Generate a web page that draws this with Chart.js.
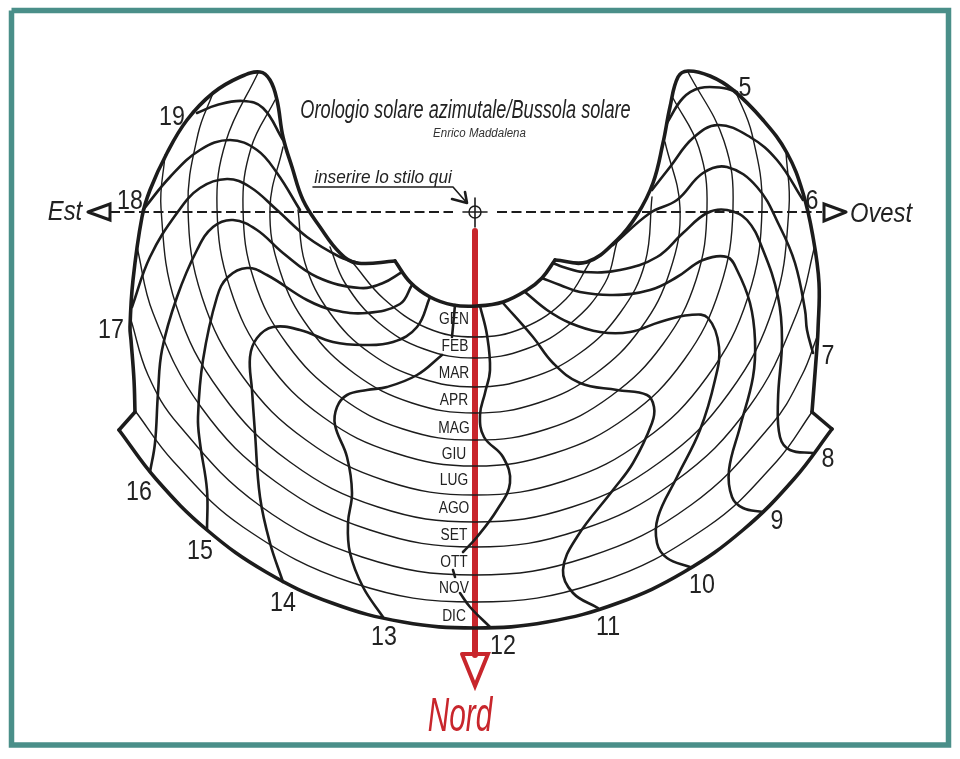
<!DOCTYPE html>
<html><head><meta charset="utf-8">
<style>html,body{margin:0;padding:0;background:#fff}canvas{display:block}</style>
<script src="https://cdn.jsdelivr.net/npm/chart.js@4"></script>
</head><body><canvas id="c" width="960" height="759"></canvas>
<script>
// month curves, as [x,y] on the plot's 960x759 grid
const gen_feb=[[353,263],[384,299],[427,328],[475,337],[523,328],[566,299],[590,262]];
const feb_mar=[[330,247],[345,283],[379,323],[424,349],[475,358],[526,349],[571,323],[605,283],[617,242]];
const mar_apr=[[298,210],[305,263],[330,313],[370,353],[420,378],[475,387],[530,378],[580,353],[620,313],[645,263],[652,197]];
const apr_mag=[[283,147],[270,208],[280,271],[309,328],[355,374],[412,403],[475,413],[538,403],[595,374],[641,328],[670,271],[680,208],[665,142]];
const mag_giu=[[275,100],[251,148],[243,208],[254,280],[287,344],[339,396],[403,429],[475,440],[547,429],[611,396],[663,344],[696,280],[707,208],[699,148],[673,98]];
const giu_lug=[[258,73],[226,141],[217,208],[230,288],[266,360],[323,417],[395,453],[475,466],[555,453],[627,417],[684,360],[720,288],[733,208],[724,141],[688,72]];
const lug_ago=[[213,93],[198,134],[188,208],[202,297],[243,377],[306,440],[386,481],[475,495],[564,481],[644,440],[707,377],[748,297],[762,208],[752,134],[735,90]];
const ago_set=[[165,155],[161,208],[176,305],[221,393],[290,462],[378,507],[475,522],[572,507],[660,462],[729,393],[774,305],[789,208],[786,152]];
const set_ott=[[137,247],[153,313],[201,407],[276,482],[370,530],[475,547],[580,530],[674,482],[749,407],[797,313],[815,245]];
const ott_nov=[[131,320],[148,375],[178,424],[259,505],[362,557],[475,575],[588,557],[691,505],[772,424],[802,375],[817,337]];
const nov_dic=[[136,412],[173,461],[243,527],[353,583],[475,602],[597,583],[707,527],[777,461],[812,412]];
// hour curves
const h5=[[737,92],[723,88],[700,88],[683,98],[667,123]];
const h6=[[803,200],[777,160],[750,137],[718,125],[693,138],[670,167],[652,190]];
const h7=[[813,353],[807,330],[805,310],[795,263],[780,227],[757,187],[727,167],[703,173],[677,200],[650,213],[613,245]];
const h8=[[813,453],[790,450],[780,437],[778,400],[782,340],[778,297],[763,250],[747,220],[727,210],[707,213],[683,233],[657,257],[620,270],[583,272],[563,267],[553,263]];
const h9=[[763,512],[743,508],[732,497],[729,470],[740,427],[753,377],[755,340],[750,303],[737,270],[727,257],[703,260],[677,277],[650,290],[613,295],[580,292],[560,285],[542,278]];
const h10=[[690,567],[667,558],[657,543],[658,517],[677,477],[700,430],[715,380],[719,347],[708,318],[690,315],[660,322],[630,332],[600,332],[570,323],[547,310],[525,292]];
const h11=[[598,608],[573,593],[563,570],[577,537],[613,490],[633,463],[652,423],[654,407],[647,395],[617,390],[580,383],[553,363],[533,337],[503,303]];
const h12a=[[480,306],[487,335],[490,370],[485,393],[480,415],[484,437],[503,457],[510,483],[497,510],[477,537],[463,552]];
const h12b=[[453,570],[455,577]];
const h12c=[[460,593],[470,607],[490,627]];
const h13a=[[383,617],[363,587],[350,553],[348,523],[352,493],[347,457],[335,425],[337,407],[347,395],[367,390],[387,387],[417,375],[442,355]];
const h13b=[[455,305],[452,337]];
const h14=[[283,582],[270,543],[260,497],[255,433],[252,390],[250,357],[257,338],[273,327],[300,330],[333,342],[363,345],[393,342],[417,327],[430,297]];
const h15=[[207,530],[207,490],[200,443],[198,417],[203,360],[217,297],[228,277],[247,268],[267,275],[307,300],[333,310],[367,313],[400,304],[412,285]];
const h16=[[150,472],[155,443],[158,393],[162,350],[177,297],[197,250],[213,227],[233,220],[257,230],[283,253],[317,277],[360,288],[383,283],[402,272]];
const h17=[[132,307],[150,257],[177,213],[200,188],[227,179],[250,187],[277,210],[307,237],[340,257],[358,263]];
const h18=[[143,210],[170,177],[200,150],[230,140],[257,150],[277,173],[300,210]];
const h19=[[197,113],[217,105],[243,101],[263,108],[283,140]];
// outline
const edgeLeft=[[135,412],[134,380],[131,340],[130,327],[133,280],[142,217],[150,190],[167,153],[187,120],[213,93],[240,77],[260,72],[270,80],[277,100],[283,137],[292,167],[303,200],[320,227],[340,253],[357,263],[395,261]];
const edgeInner=[[395,261],[410,282],[430,297],[453,305],[477,306],[503,302],[527,290],[542,278],[555,260]];
const edgeRight=[[555,260],[587,262],[617,240],[637,215],[653,183],[663,143],[670,107],[678,77],[688,71],[710,76],[733,90],[763,120],[787,153],[803,193],[813,237],[819,283],[818,330],[817,347],[812,412]];
const edgeBottom=[[119,430],[156,479],[207,530],[266,572],[332,603],[403,622],[475,628],[547,622],[618,603],[684,572],[743,530],[794,479],[832,429]];
const notchLeft=[[135,412],[119,430]];
const notchRight=[[812,412],[832,429]];
// axes and arrows
const eastWestLeft=[[110,212],[453,212]];
const eastWestRight=[[497,212],[822,212]];
const crossH=[[463,212],[487,212]];
const crossV=[[475,198],[475,227]];
const crossRing=[[475,212]];
const northLine=[[475,231],[475,655]];
const northHead=[[462,654],[488,654],[475,686],[462,654]];
const eastHead=[[88,212],[110,204],[110,220],[88,212]];
const westHead=[[846,212],[824,204],[824,221],[846,212]];
const pointer=[[313,187],[453,187],[467,203]];
const pointerHead=[[465,192],[467,203],[452,199]];
const frame=[[11.5,10.5],[948.5,10.5],[948.5,745],[11.5,745],[11.5,10.5]];
// labels
const monthNames=['GEN','FEB','MAR','APR','MAG','GIU','LUG','AGO','SET','OTT','NOV','DIC'];
const monthX=[454,455,454,454,454,454,454,454,454,454,454,454];
const monthY=[320,347,374,401,429,455,481,509,536,563,589,617];
const hourNames=['5','6','7','8','9','10','11','12','13','14','15','16','17','18','19'];
const hourX=[745,812,828,828,777,702,608,503,384,283,200,139,111,130,172];
const hourY=[89,202,357,460,522,586,628,647,638,604,552,493,331,202,118];

const BLACK='#1c1c1c', RED='#c8262c', TEAL='#4a8f89';
const P=a=>a.map(([x,y])=>({x,y}));
const line=(a,w,o={})=>Object.assign({data:P(a),borderColor:BLACK,borderWidth:w,tension:0.4,pointRadius:0,fill:false,showLine:true,borderCapStyle:'round',borderJoinStyle:'round'},o);
const straight={tension:0};
const months=[gen_feb,feb_mar,mar_apr,apr_mag,mag_giu,giu_lug,lug_ago,ago_set,set_ott,ott_nov,nov_dic];
const hours=[h5,h6,h7,h8,h9,h10,h11,h12a,h12b,h12c,h13a,h13b,h14,h15,h16,h17,h18,h19];
const edges=[edgeLeft,edgeInner,edgeRight,edgeBottom];
const datasets=[
 line(frame,5.5,{borderColor:TEAL,tension:0,borderCapStyle:'butt',borderJoinStyle:'miter'}),
 ...months.map(a=>line(a,1.4)),
 ...hours.map(a=>line(a,2.6)),
 ...edges.map(a=>line(a,3.6)),
 line(notchLeft,3.6,straight),line(notchRight,3.6,straight),
 line(eastWestLeft,2,{tension:0,borderDash:[10,4.5],borderCapStyle:'butt'}),
 line(eastWestRight,2,{tension:0,borderDash:[10,4.5],borderCapStyle:'butt'}),
 line(crossH,1.6,straight),line(crossV,1.6,straight),
 {data:P(crossRing),showLine:false,pointStyle:'circle',pointRadius:6,pointBorderWidth:1.5,pointBorderColor:BLACK,pointBackgroundColor:'rgba(0,0,0,0)'},
 line(northLine,6,{tension:0,borderColor:RED,borderCapStyle:'butt'}),
 line(northHead,4,{tension:0,borderColor:RED,fill:true,backgroundColor:'#fff',borderJoinStyle:'miter'}),
 line(eastHead,3,{tension:0,fill:true,backgroundColor:'#fff',borderJoinStyle:'miter'}),
 line(westHead,3,{tension:0,fill:true,backgroundColor:'#fff',borderJoinStyle:'miter'}),
 line(pointer,1.6,straight),
 line(pointerHead,2.6,straight)
];
const SANS='"Liberation Sans",sans-serif';
const textPlugin={id:'texts',afterDatasetsDraw(ch){
 const c=ch.ctx,sx=ch.scales.x,sy=ch.scales.y;
 const put=(t,x,y,font,col,xs)=>{c.save();c.translate(sx.getPixelForValue(x),sy.getPixelForValue(y));c.scale(xs||1,1);c.font=font;c.fillStyle=col;c.textAlign='center';c.textBaseline='middle';c.fillText(t,0,0);c.restore();};
 monthNames.forEach((t,i)=>put(t,monthX[i],monthY[i],'16px '+SANS,'#222',.86));
 hourNames.forEach((t,i)=>put(t,hourX[i],hourY[i],'27px '+SANS,'#222',.86));
 put('Orologio solare azimutale/Bussola solare',465.5,111,'italic 25px '+SANS,'#222',.727);
 put('Enrico Maddalena',479.5,134,'italic 12px '+SANS,'#333',.96);
 put('inserire lo stilo qui',383,178,'italic 18px '+SANS,'#222',.955);
 put('Est',65,212,'italic 28px '+SANS,'#222',.85);
 put('Ovest',881,214,'italic 28px '+SANS,'#222',.85);
 put('Nord',460,718,'italic 48px '+SANS,RED,.62);
}};
new Chart(document.getElementById('c'),{type:'scatter',data:{datasets},plugins:[textPlugin],options:{
 responsive:false,animation:false,devicePixelRatio:1,
 layout:{padding:0,autoPadding:false},
 plugins:{legend:{display:false},tooltip:{enabled:false},title:{display:false}},
 scales:{x:{type:'linear',min:0,max:960,display:false},y:{type:'linear',min:0,max:759,reverse:true,display:false}}
}});
</script></body></html>
